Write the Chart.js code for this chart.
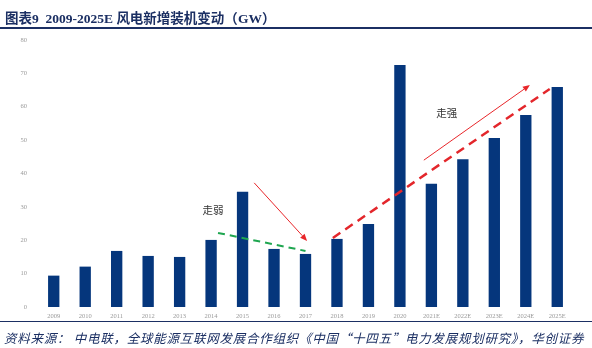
<!DOCTYPE html>
<html><head><meta charset="utf-8">
<script src="https://cdn.jsdelivr.net/npm/chart.js@4/dist/chart.umd.min.js"></script>
<style>
html,body{margin:0;padding:0;background:#fff;}
#wrap{position:relative;width:592px;height:348px;overflow:hidden;}
#title{position:absolute;left:5px;top:7px;font:bold 13.5px "Liberation Serif","Noto Sans CJK SC",serif;color:#1b2f63;white-space:nowrap;}
#title .cn{font-family:"Noto Sans CJK SC",sans-serif;font-weight:bold;}
#topline{position:absolute;left:0;top:27px;width:592px;height:2px;background:#1b2f63;}
#botline{position:absolute;left:0;top:321px;width:592px;height:1px;background:#1b2f63;}
#src{position:absolute;left:4px;top:328px;font:italic 12.5px "Noto Sans CJK SC",sans-serif;letter-spacing:0.75px;color:#1b2f63;white-space:nowrap;}
canvas{position:absolute;left:0;top:0;}
</style></head>
<body><div id="wrap">
<canvas id="c" width="592" height="348"></canvas>
<div id="title"><span class="cn">图表</span>9&nbsp; 2009-2025E <span class="cn">风电新增装机变动（</span>GW<span class="cn">）</span></div>
<div id="topline"></div>
<div id="botline"></div>
<div id="src">资料来源：&nbsp;中电联，全球能源互联网发展合作组织《中国“十四五”电力发展规划研究》，华创证券</div>
</div>
<script>
const categories = ["2009","2010","2011","2012","2013","2014","2015","2016","2017","2018","2019","2020","2021E","2022E","2023E","2024E","2025E"];
const newCapacityGW = [9.4,12.1,16.8,15.3,15.0,20.1,34.5,17.4,15.9,20.4,24.9,72.5,36.9,44.3,50.6,57.5,65.9];
const yTicks = [0,10,20,30,40,50,60,70,80];

// annotation anchors in data coordinates [categoryIndex, value]
const weakTrend = [[5.22,22.2],[8.0,16.8]];
const weakArrow = [[6.37,37.2],[8.05,19.8]];
const strongTrend = [[8.87,20.7],[15.76,65.3]];
const strongArrow = [[11.76,44.0],[15.13,66.5]];
const weakLabel = {text:"走弱", at:[5.06,29.1]};
const strongLabel = {text:"走强", at:[12.49,58.1]};

const annot = {
  id:'annot',
  afterDatasetsDraw(chart){
    const {ctx, scales:{x,y}} = chart;
    const P = p => [x.getPixelForValue(p[0]), y.getPixelForValue(p[1])];
    function line(pts,color,w,dash){
      const a=P(pts[0]), b=P(pts[1]);
      ctx.save();ctx.strokeStyle=color;ctx.lineWidth=w;ctx.setLineDash(dash);
      ctx.beginPath();ctx.moveTo(a[0],a[1]);ctx.lineTo(b[0],b[1]);ctx.stroke();ctx.restore();
    }
    function arrow(pts,color){
      const a=P(pts[0]), b=P(pts[1]);
      ctx.save();ctx.strokeStyle=color;ctx.fillStyle=color;ctx.lineWidth=1;
      const ang=Math.atan2(b[1]-a[1],b[0]-a[0]);
      const hl=7, hw=3;
      const bx=b[0]-hl*Math.cos(ang), by=b[1]-hl*Math.sin(ang);
      ctx.beginPath();ctx.moveTo(a[0],a[1]);ctx.lineTo(bx,by);ctx.stroke();
      ctx.beginPath();ctx.moveTo(b[0],b[1]);
      ctx.lineTo(bx+hw*Math.sin(ang),by-hw*Math.cos(ang));
      ctx.lineTo(bx-hw*Math.sin(ang),by+hw*Math.cos(ang));
      ctx.closePath();ctx.fill();ctx.restore();
    }
    function label(l){
      const a=P(l.at);
      ctx.save();ctx.fillStyle='#333';ctx.font='10.5px "Noto Sans CJK SC",sans-serif';
      ctx.textAlign='center';ctx.textBaseline='middle';ctx.fillText(l.text,a[0],a[1]);ctx.restore();
    }
    line(weakTrend,'#1fa650',2,[7,5]);
    arrow(weakArrow,'#e8262a');
    line(strongTrend,'#e3262b',2.5,[9,6]);
    arrow(strongArrow,'#e8262a');
    label(weakLabel); label(strongLabel);
  }
};

new Chart(document.getElementById('c'),{
  type:'bar',
  data:{labels:categories,datasets:[{data:newCapacityGW,backgroundColor:'#05367c',barPercentage:0.36,categoryPercentage:1}]},
  options:{
    responsive:false,animation:false,
    layout:{padding:{left:0,right:19,top:40,bottom:27}},
    plugins:{legend:{display:false},tooltip:{enabled:false}},
    scales:{
      x:{grid:{display:false,drawTicks:false},border:{display:false},
         ticks:{color:'#9a9a9a',font:{size:6.5,family:'"Liberation Serif",serif'},padding:5,maxRotation:0,autoSkip:false},
         afterFit(s){s.height=14;}},
      y:{min:0,max:80,grid:{display:false,drawTicks:false},border:{display:false},
         afterBuildTicks(s){s.ticks=yTicks.map(v=>({value:v}));},
         ticks:{color:'#9a9a9a',font:{size:6.5,family:'"Liberation Serif",serif'},padding:11},
         afterFit(s){s.width=38;}}
    }
  },
  plugins:[annot]
});
</script>
</body></html>
